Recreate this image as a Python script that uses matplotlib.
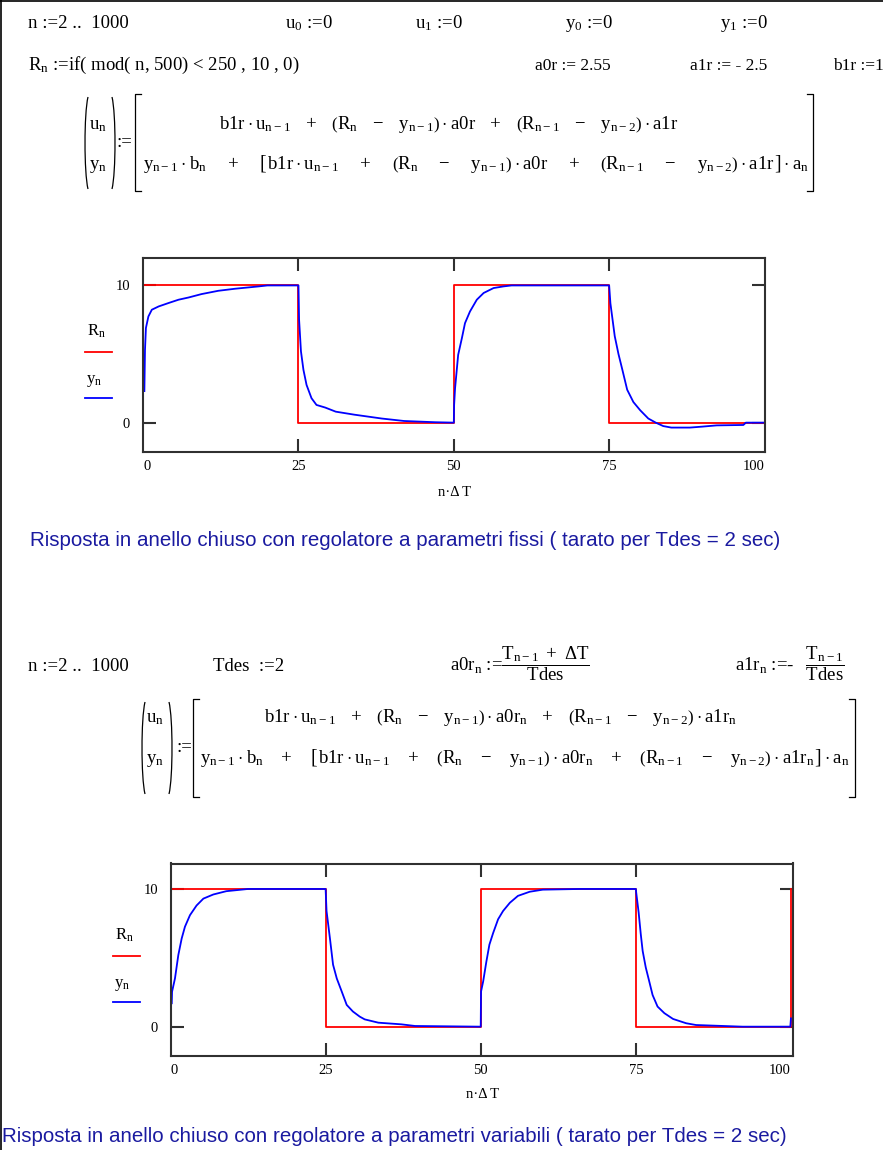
import numpy as np
import matplotlib.pyplot as plt
from matplotlib.path import Path
from matplotlib.patches import PathPatch

plt.rcParams['mathtext.fontset'] = 'custom'
plt.rcParams['mathtext.rm'] = 'Liberation Serif'
plt.rcParams['mathtext.it'] = 'Liberation Serif'
plt.rcParams['mathtext.bf'] = 'Liberation Serif:bold'

SERIF = 'Liberation Serif'
SANS = 'Liberation Sans'
W, H = 883, 1150
FS = 13.5  # formula text size

# ---- regolatore a parametri fissi ----
R1_t = [0.2, 25.0, 25.0, 50.0, 50.0, 75.0, 75.0, 99.9]
R1_v = [10, 10, 0, 0, 10, 10, 0, 0]
y1_t = [0.2, 0.3, 0.45, 0.85, 1.4, 2.5, 4.1, 5.7, 7.3, 9.4, 12.1, 14.8, 18.6, 20.0,
        25.0, 25.1, 25.4, 25.8, 26.3, 27.1, 27.9, 29.3, 31.0, 34.0, 38.4, 42.0, 47.0,
        50.0, 50.05, 50.2, 50.7, 51.3, 51.8, 52.6, 53.7, 54.8, 56.4, 58.0, 59.3,
        75.0, 75.2, 75.9, 76.5, 77.1, 77.9, 78.9, 80.0, 81.3, 82.5, 83.7, 85.0,
        88.0, 90.0, 92.3, 96.6, 97.0, 99.9]
y1_v = [2.3, 5.3, 6.9, 7.74, 8.23, 8.47, 8.72, 8.96, 9.12, 9.37, 9.61, 9.76, 9.93, 10.0,
        10.0, 7.5, 5.2, 3.85, 2.75, 1.78, 1.29, 1.1, 0.8, 0.58, 0.3, 0.12, 0.03,
        0.0, 1.3, 2.5, 4.94, 6.16, 7.25, 8.1, 8.96, 9.45, 9.81, 9.93, 10.0,
        10.0, 8.7, 6.3, 5.0, 3.9, 2.4, 1.5, 0.9, 0.3, 0.0, -0.25, -0.36,
        -0.36, -0.29, -0.2, -0.17, 0.0, 0.0]

# ---- regolatore a parametri variabili ----
R2_t = [0.2, 25.0, 25.0, 50.0, 50.0, 75.0, 75.0, 100.0, 100.0]
R2_v = [10, 10, 0, 0, 10, 10, 0, 0, 10]
y2_t = [0.2, 0.25, 0.72, 1.26, 1.8, 2.33, 3.14, 4.2, 5.3, 6.9, 9.0, 12.5,
        25.0, 25.15, 25.7, 26.2, 26.8, 27.6, 28.4, 29.4, 30.5, 31.3, 33.5, 37.2, 39.4,
        50.0, 50.05, 50.4, 50.9, 51.4, 52.0, 52.8, 53.6, 54.7, 56.0, 57.9, 60.0, 65.9,
        75.0, 75.07, 75.45, 75.8, 76.1, 76.6, 77.1, 77.7, 78.5, 79.6, 81.0, 83.1, 84.7,
        92.2, 99.9, 100.0]
y2_v = [1.7, 2.54, 3.5, 5.2, 6.4, 7.26, 8.1, 8.8, 9.3, 9.6, 9.84, 10.0,
        10.0, 8.4, 6.4, 4.5, 3.5, 2.55, 1.58, 1.1, 0.73, 0.53, 0.29, 0.17, 0.05,
        0.0, 2.55, 3.3, 4.7, 5.96, 6.8, 7.8, 8.4, 9.0, 9.5, 9.8, 9.95, 10.0,
        10.0, 9.7, 8.3, 6.7, 5.5, 4.3, 3.4, 2.3, 1.46, 0.98, 0.56, 0.25, 0.12,
        0.0, 0.0, 0.6]

xticks = [0, 25, 50, 75, 100]
yticks = [0, 10]

fig = plt.figure(figsize=(W / 100, H / 100), dpi=100)
page = fig.add_axes([0, 0, 1, 1])
page.set_xlim(0, W)
page.set_ylim(H, 0)
page.axis('off')


def box(l, t, r, b):
    return [l / W, 1 - b / H, (r - l) / W, (b - t) / H]


def txt(x, y, s, size=FS, **kw):
    kw.setdefault('family', SERIF)
    page.text(x, y, s, fontsize=size, va='baseline', ha=kw.pop('ha', 'left'), **kw)


def paren(x, y0, y1, w, left=True):
    # tall round bracket drawn as a cubic curve
    d = w if left else -w
    h = y1 - y0
    verts = [(x + d, y0), (x, y0 + 0.18 * h), (x, y1 - 0.18 * h), (x + d, y1)]
    codes = [Path.MOVETO, Path.CURVE4, Path.CURVE4, Path.CURVE4]
    page.add_patch(PathPatch(Path(verts, codes), fill=False, lw=0.9, color='black'))


def bracket(x, y0, y1, w, left=True):
    d = w if left else -w
    page.plot([x + d, x, x, x + d], [y0, y0, y1, y1], color='black', lw=0.9)


def ctrl_rows(sub, g1, g2, gd):
    # the two rows of the controller/plant update, gaps in hspace units
    s1 = r'\hspace{%s}' % g1
    s2 = r'\hspace{%s}' % g2
    dot = r'\hspace{%s}{\cdot}\hspace{%s}' % (gd, gd)

    def inner(s):
        return (r'b1r' + dot + r'u_{n-1}' + s + '+' + s + r'\left(R_n' + s + '-' + s +
                r'y_{n-1}\right)' + dot + 'a0r' + sub + s + '+' + s + r'\left(R_{n-1}' + s +
                '-' + s + r'y_{n-2}\right)' + dot + 'a1r' + sub)

    r1 = '$' + inner(s1) + '$'
    r2 = ('$y_{n-1}' + dot + 'b_n' + s2 + '+' + s2 + r'\left[\hspace{0.1}' + inner(s2) +
          r'\hspace{0.1}\right]' + dot + 'a_n$')
    return r1, r2


# cornice del foglio
page.plot([1, 1], [0, H], color='black', lw=1.2)
page.plot([0, W], [1, 1], color='black', lw=1.2)

# ---- definizioni, prima parte ----
txt(28, 28, 'n :=2 ..  1000')
txt(285, 28, 'u$_0$ :=0')
txt(415, 28, 'u$_1$ :=0')
txt(565, 28, 'y$_0$ :=0')
txt(720, 28, 'y$_1$ :=0')
txt(28, 70, 'R$_n$ :=if( mod( n, 500) < 250 , 10 , 0)')
txt(535, 70, 'a0r := 2.55', size=FS - 1)
txt(690, 70, 'a1r := - 2.5', size=FS - 1)
txt(833, 70, 'b1r :=1', size=FS - 1)

row1, row2 = ctrl_rows('', 0.87, 1.28, 0.22)
paren(84, 97, 189, 4, True)
paren(116, 97, 189, 4, False)
txt(89, 129, 'u$_n$')
txt(89, 169, 'y$_n$')
txt(116, 147, ':=')
bracket(135, 94, 191, 6, True)
bracket(813, 94, 191, 6, False)
txt(449, 129, row1, ha='center')
txt(143, 169, row2)

# ---- definizioni, seconda parte ----
txt(28, 671, 'n :=2 ..  1000')
txt(213, 671, 'Tdes  :=2')
txt(450, 671, r'a0r$_n$ :=$\dfrac{T_{n-1}\ +\ \Delta T}{Tdes}$')
txt(735, 671, r'a1r$_n$ :=-$\hspace{0.9}\dfrac{T_{n-1}}{Tdes}$')

row1b, row2b = ctrl_rows('_n', 0.87, 1.07, 0.22)
paren(141, 702, 794, 4, True)
paren(173, 702, 794, 4, False)
txt(146, 722, 'u$_n$')
txt(146, 763, 'y$_n$')
txt(176, 752, ':=')
bracket(193, 699, 797, 6, True)
bracket(855, 699, 797, 6, False)
txt(500, 722, row1b, ha='center')
txt(200, 763, row2b)


def draw_plot(rect, xlim, ylim, Rt, Rv, yt, yv):
    ax = fig.add_axes(rect)
    ax.plot(Rt, Rv, color='#ff0000', lw=1.3)
    ax.plot(yt, yv, color='#0000ff', lw=1.3)
    ax.set_xlim(*xlim)
    ax.set_ylim(*ylim)
    ax.set_xticks(xticks)
    ax.set_yticks(yticks)
    ax.tick_params(direction='in', length=9.5, width=1.5, color='#303030',
                   top=True, right=True, labelsize=10.5, pad=6)
    ax.tick_params(axis='y', pad=9)
    for lab in ax.get_xticklabels() + ax.get_yticklabels():
        lab.set_family(SERIF)
    labs = ax.get_xticklabels()
    labs[0].set_ha('left')
    labs[-1].set_ha('right')
    # the end ticks fall on the frame itself
    for tk in (ax.xaxis.get_major_ticks()[0], ax.xaxis.get_major_ticks()[-1]):
        tk.tick1line.set_visible(False)
        tk.tick2line.set_visible(False)
    for s in ax.spines.values():
        s.set_color('#303030')
        s.set_linewidth(1.5)
    return ax


draw_plot(box(142.5, 258, 764.5, 452), (-0.1, 100), (-2.14, 12.0), R1_t, R1_v, y1_t, y1_v)
draw_plot(box(170.5, 863.5, 792.5, 1056), (0.0, 100.25), (-2.13, 11.85), R2_t, R2_v, y2_t, y2_v)

# legende a sinistra dei grafici
for lx, ly in [(85, 336), (113, 940)]:
    txt(lx + 2, ly, 'R$_n$', size=12)
    page.plot([lx, lx + 27], [ly + 16, ly + 16], color='#ff0000', lw=1.3)
    txt(lx + 1, ly + 47, 'y$_n$', size=12)
    page.plot([lx, lx + 27], [ly + 62, ly + 62], color='#0000ff', lw=1.3)

txt(455, 496, 'n·Δ T', size=10.5, ha='center')
txt(483, 1098, 'n·Δ T', size=10.5, ha='center')

page.text(30, 541, 'Risposta in anello chiuso con regolatore a parametri fissi ( tarato per Tdes = 2 sec)',
          family=SANS, fontsize=14.8, color='#1a1aa0', va='center')
page.text(2, 1137, 'Risposta in anello chiuso con regolatore a parametri variabili ( tarato per Tdes = 2 sec)',
          family=SANS, fontsize=14.8, color='#1a1aa0', va='center')

fig.savefig('out.png', dpi=100)
